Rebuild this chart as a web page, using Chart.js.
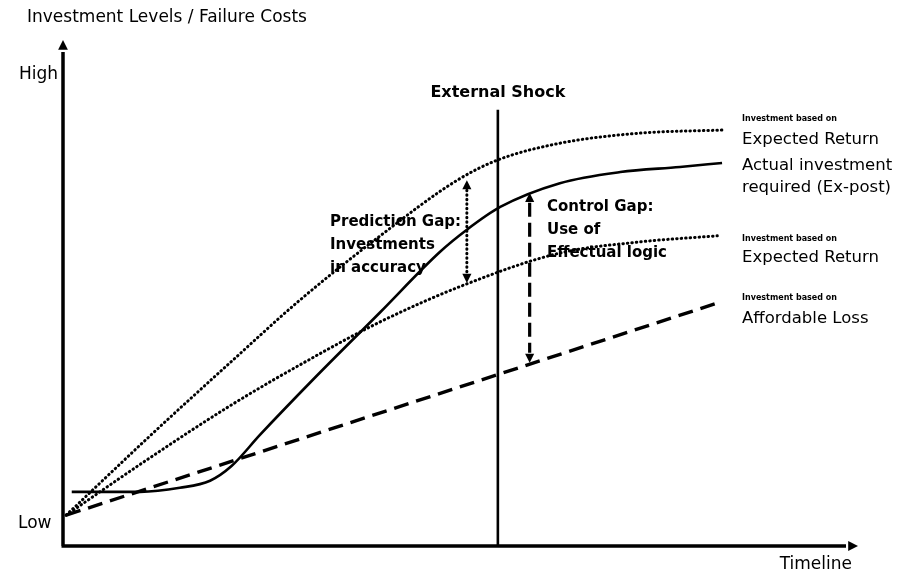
<!DOCTYPE html>
<html>
<head>
<meta charset="utf-8">
<script src="https://cdn.jsdelivr.net/npm/chart.js@4"></script>
<style>
  html, body { margin: 0; padding: 0; background: #fff; }
  #wrap { width: 903px; height: 571px; }
</style>
</head>
<body>
<div id="wrap"><canvas id="chart" width="903" height="571"></canvas></div>
<script>
// Werte auf einer Skala 0..100 (Zeit / Investitionsniveau)
const upperX  = [0.4, 10.9, 21.0, 29.8, 39.9, 49.6, 54.7, 62.5, 72.6, 82.9];
const upperY  = [6.1, 21.7, 36.2, 48.6, 61.3, 72.3, 76.3, 79.6, 81.6, 82.2];

const lowerX  = [0.4, 10.9, 21.0, 29.8, 39.9, 50.8, 62.5, 72.6, 82.3];
const lowerY  = [6.1, 17.4, 27.7, 35.8, 44.3, 51.8, 57.9, 60.1, 61.3];

const actualX = [1.1, 9.7, 14.7, 18.5, 21.2, 24.8, 31.4, 39.9, 47.4, 50.8, 55.0, 62.5, 70.1, 77.6, 82.9];
const actualY = [10.7, 10.7, 11.5, 12.9, 15.8, 22.0, 32.8, 46.2, 58.1, 62.5, 67.0, 71.7, 73.9, 74.9, 75.7];

const lossX   = [0.4, 82.3];
const lossY   = [6.1, 48.0];

const shockX = 54.7;
const shockTop = 86.2;
const predictionGap = { x: 50.8, from: 72.3, to: 52.0 };
const controlGap    = { x: 58.7, from: 69.8, to: 36.2 };

const FONT = "'Comic Sans MS', 'DejaVu Sans', sans-serif";

function pts(xs, ys) {
  return xs.map((x, i) => ({ x: x, y: ys[i] }));
}

function arrowHead(ctx, x, y, dir, size) {
  // dir: -1 nach oben, 1 nach unten, 2 nach rechts
  ctx.beginPath();
  if (dir === 2) {
    ctx.moveTo(x, y);
    ctx.lineTo(x - size * 1.4, y - size * 0.7);
    ctx.lineTo(x - size * 1.4, y + size * 0.7);
  } else {
    ctx.moveTo(x, y);
    ctx.lineTo(x - size * 0.7, y - dir * size * 1.4);
    ctx.lineTo(x + size * 0.7, y - dir * size * 1.4);
  }
  ctx.closePath();
  ctx.fill();
}

const annotations = {
  id: 'annotations',
  afterDatasetsDraw(chart) {
    const ctx = chart.ctx;
    const a = chart.chartArea;
    const xs = chart.scales.x, ys = chart.scales.y;
    ctx.save();
    ctx.fillStyle = '#000';
    ctx.strokeStyle = '#000';

    // Achsen
    ctx.lineWidth = 3.5;
    ctx.setLineDash([]);
    ctx.beginPath();
    ctx.moveTo(a.left, a.bottom);
    ctx.lineTo(a.left, a.top + 12);
    ctx.moveTo(a.left - 1.5, a.bottom);
    ctx.lineTo(a.right - 12, a.bottom);
    ctx.stroke();
    arrowHead(ctx, a.left, a.top, -1, 7);
    arrowHead(ctx, a.right, a.bottom, 2, 7);

    // Externer Schock
    const sx = xs.getPixelForValue(shockX);
    ctx.lineWidth = 2.6;
    ctx.beginPath();
    ctx.moveTo(sx, a.bottom);
    ctx.lineTo(sx, ys.getPixelForValue(shockTop));
    ctx.stroke();

    // Prediction Gap (gepunkteter Doppelpfeil)
    let px = xs.getPixelForValue(predictionGap.x);
    let p1 = ys.getPixelForValue(predictionGap.from);
    let p2 = ys.getPixelForValue(predictionGap.to);
    ctx.lineWidth = 3;
    ctx.lineCap = 'round';
    ctx.setLineDash([0.5, 4]);
    ctx.beginPath();
    ctx.moveTo(px, p1 + 10);
    ctx.lineTo(px, p2 - 10);
    ctx.stroke();
    ctx.setLineDash([]);
    arrowHead(ctx, px, p1, -1, 6.5);
    arrowHead(ctx, px, p2, 1, 6.5);

    // Control Gap (gestrichelter Doppelpfeil)
    px = xs.getPixelForValue(controlGap.x);
    p1 = ys.getPixelForValue(controlGap.from);
    p2 = ys.getPixelForValue(controlGap.to);
    ctx.lineCap = 'butt';
    ctx.lineWidth = 3.2;
    ctx.setLineDash([14, 6]);
    ctx.beginPath();
    ctx.moveTo(px, p1 + 10);
    ctx.lineTo(px, p2 - 10);
    ctx.stroke();
    ctx.setLineDash([]);
    arrowHead(ctx, px, p1, -1, 6.5);
    arrowHead(ctx, px, p2, 1, 6.5);

    // Texte
    ctx.textBaseline = 'middle';
    ctx.textAlign = 'left';
    ctx.font = '17px ' + FONT;
    ctx.fillText('Investment Levels / Failure Costs', 27, 18);
    ctx.fillText('High', 19, 75);
    ctx.fillText('Low', 18, 524);
    ctx.textAlign = 'right';
    ctx.fillText('Timeline', 852, 565);

    ctx.textAlign = 'center';
    ctx.font = 'bold 16px ' + FONT;
    ctx.fillText('External Shock', sx, 93);

    ctx.textAlign = 'left';
    ctx.font = 'bold 15px ' + FONT;
    ctx.fillText('Prediction Gap:', 330, 222);
    ctx.fillText('Investments', 330, 245);
    ctx.fillText('in accuracy', 330, 268);
    ctx.fillText('Control Gap:', 547, 207);
    ctx.fillText('Use of', 547, 230);
    ctx.fillText('Effectual logic', 547, 253);

    const lx = 742;
    const small = 'bold 8px ' + FONT, big = '16.5px ' + FONT;
    ctx.font = small; ctx.fillText('Investment based on', lx, 119);
    ctx.font = big;   ctx.fillText('Expected Return', lx, 140);
    ctx.fillText('Actual investment', lx, 166);
    ctx.fillText('required (Ex-post)', lx, 188);
    ctx.font = small; ctx.fillText('Investment based on', lx, 239);
    ctx.font = big;   ctx.fillText('Expected Return', lx, 258);
    ctx.font = small; ctx.fillText('Investment based on', lx, 298);
    ctx.font = big;   ctx.fillText('Affordable Loss', lx, 319);
    ctx.restore();
  }
};

const dotted = { borderDash: [0.5, 4], borderCapStyle: 'round', borderWidth: 3 };

new Chart(document.getElementById('chart'), {
  type: 'line',
  data: {
    datasets: [
      Object.assign({ label: 'Expected Return (hoch)', data: pts(upperX, upperY), cubicInterpolationMode: 'monotone' }, dotted),
      Object.assign({ label: 'Expected Return (niedrig)', data: pts(lowerX, lowerY), cubicInterpolationMode: 'monotone' }, dotted),
      { label: 'Actual investment', data: pts(actualX, actualY), borderWidth: 2.6, cubicInterpolationMode: 'monotone' },
      { label: 'Affordable Loss', data: pts(lossX, lossY), borderWidth: 3.4, borderDash: [15, 8] }
    ].map(d => Object.assign({ borderColor: '#000', pointRadius: 0, fill: false }, d))
  },
  options: {
    responsive: false,
    animation: false,
    layout: { padding: { left: 63, right: 45, top: 40, bottom: 25 } },
    plugins: { legend: { display: false }, tooltip: { enabled: false } },
    scales: {
      x: { type: 'linear', min: 0, max: 100, display: false },
      y: { type: 'linear', min: 0, max: 100, display: false }
    }
  },
  plugins: [annotations]
});
</script>
</body>
</html>
